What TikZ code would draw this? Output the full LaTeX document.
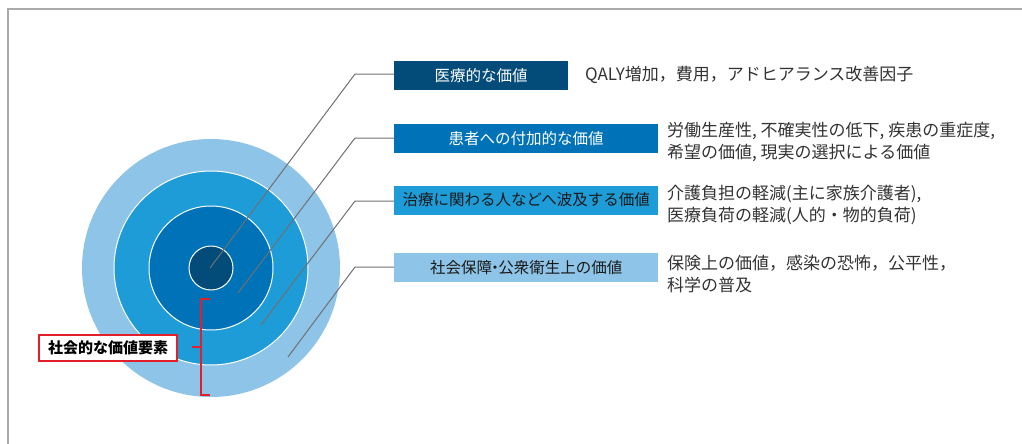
\documentclass[tikz,border=0pt]{standalone}
\usepackage{fontspec}
\setmainfont{Noto Sans CJK JP}
\newfontfamily\jp{Noto Sans CJK JP}
\definecolor{cOuter}{HTML}{8DC4E7}
\definecolor{cSecond}{HTML}{1E9CD8}
\definecolor{cThird}{HTML}{0072B8}
\definecolor{cInner}{HTML}{034C7A}
\definecolor{frameg}{HTML}{AAAAAA}
\definecolor{lineg}{HTML}{707070}
\definecolor{txtg}{HTML}{333333}
\definecolor{bred}{HTML}{E3202A}
\tikzset{
  ring/.style={draw=white, line width=1pt},
  valbox/.style={minimum height=29pt, inner sep=0pt, font=\jp\fontsize{15.5}{18}\selectfont},
  desc/.style={anchor=west, inner sep=0pt, align=left, text=txtg, font=\jp\fontsize{17}{22}\selectfont},
  leader/.style={draw=lineg, line width=1pt},
}
\begin{document}
\begin{tikzpicture}[x=1pt,y=-1pt]
\useasboundingbox (0,0) rectangle (1022,444);
% frame
\draw[frameg, line width=2pt] (8,444) -- (8,9) -- (1022,9);
% circles
\fill[cOuter] (211,268) circle (129);
\draw[ring, fill=cSecond] (211,268) circle (97);
\draw[ring, fill=cThird] (211,268) circle (62);
\draw[ring, fill=cInner] (211,268) circle (22);
% boxes
\node[valbox, fill=cInner, text=white, minimum width=174pt, anchor=west] (b1) at (394,75.5) {医療的な価値};
\node[valbox, fill=cThird, text=white, minimum width=264pt, anchor=west] (b2) at (394,138.5) {患者への付加的な価値};
\node[valbox, fill=cSecond, text=black!90, minimum width=264pt, anchor=west] (b3) at (394,200) {治療に関わる人などへ波及する価値};
\node[valbox, fill=cOuter, text=black!90, minimum width=264pt, anchor=west] (b4) at (394,267.5) {社会保障{\kern-0.3em}・{\kern-0.3em}公衆衛生上の価値};
% descriptions
\node[desc] (d1) at (585,75) {QALY増加，費用，アドヒアランス改善因子};
\node[desc] (d2) at (667,142) {労働生産性, 不確実性の低下, 疾患の重症度,\\希望の価値, 現実の選択による価値};
\node[desc] (d3) at (667,205) {介護負担の軽減(主に家族介護者),\\医療負荷の軽減(人的・物的負荷)};
\node[desc] (d4) at (667,274) {保険上の価値，感染の恐怖，公平性，\\科学の普及};
% leader lines
\coordinate (e1) at (210,268);
\coordinate (e2) at (238,293);
\coordinate (e3) at (261,325);
\coordinate (e4) at (288,357);
\coordinate (k1) at (355,74);
\coordinate (k2) at (355,138);
\coordinate (k3) at (355,201);
\coordinate (k4) at (355,267);
\draw[leader] (e1) -- (k1) -- (k1 -| b1.west);
\draw[leader] (e2) -- (k2) -- (k2 -| b2.west);
\draw[leader] (e3) -- (k3) -- (k3 -| b3.west);
\draw[leader] (e4) -- (k4) -- (k4 -| b4.west);
% bracket
\coordinate (t1) at (210,299);
\coordinate (t2) at (201,299);
\coordinate (t3) at (201,395);
\coordinate (t4) at (210,395);
\coordinate (m1) at (201,347);
\coordinate (m2) at (192,347);
\draw[bred, line width=2.5pt] (t1) -- (t2) -- (t3) -- (t4);
\draw[bred, line width=2.5pt] (m1) -- (m2);
% label
\node[draw=bred, line width=1.2pt, fill=white, minimum width=138pt, minimum height=26pt, inner sep=0pt, font=\jp\bfseries\fontsize{15}{16}\selectfont] (lab) at (108,348) {社会的な価値要素};
\end{tikzpicture}
\end{document}
